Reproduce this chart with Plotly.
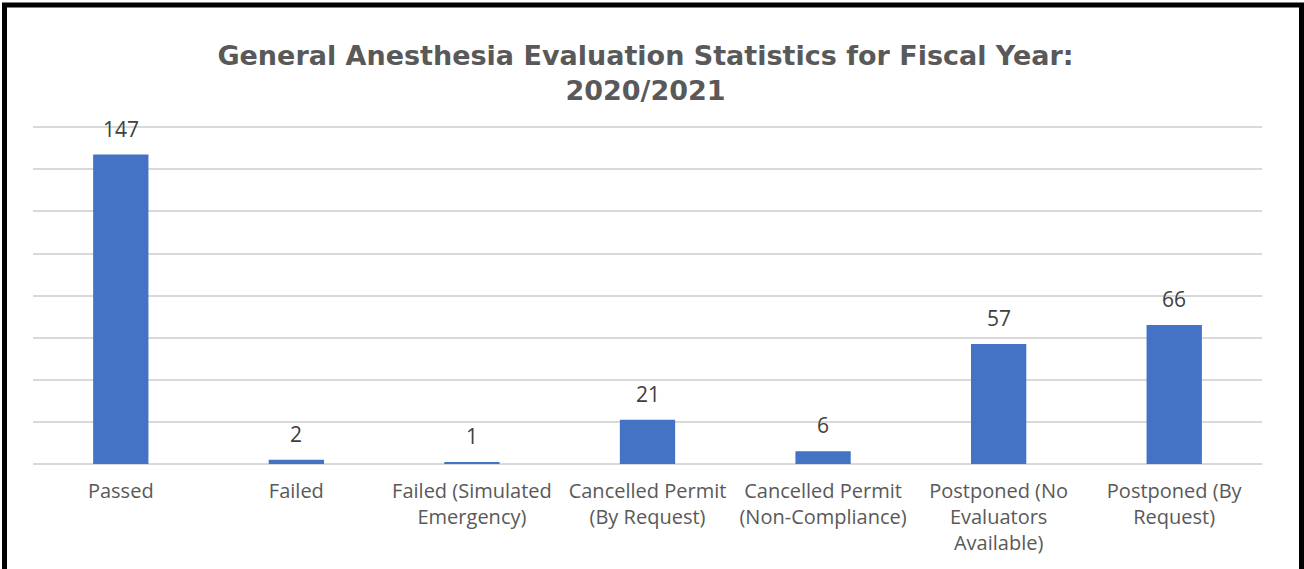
import plotly.graph_objects as go

# ─── Données ──────────────────────────────────────────────────────────
categories = [
    "Passed",
    "Failed",
    "Failed (Simulated<br>Emergency)",
    "Cancelled Permit<br>(By Request)",
    "Cancelled Permit<br>(Non-Compliance)",
    "Postponed (No<br>Evaluators<br>Available)",
    "Postponed (By<br>Request)",
]
counts = [147, 2, 1, 21, 6, 57, 66]

TITLE = "General Anesthesia Evaluation Statistics for Fiscal Year:<br>2020/2021"

# ─── Géométrie ────────────────────────────────────────────────────────
W, H = 1304, 569
ML, MR, MT, MB = 33, 42, 126, 105
PW, PH = W - ML - MR, H - MT - MB

LABEL_FONT = "'Open Sans', Lato, sans-serif"


def px_to_paper(x, y):
    """Pixel (page) -> coordonnées paper du plot."""
    return (x - ML) / PW, (H - MB - y) / PH


fig = go.Figure()

fig.add_trace(
    go.Bar(
        x=categories,
        y=counts,
        marker=dict(color="#4472C4", line=dict(width=0)),
        width=0.315,
        hoverinfo="x+y",
    )
)

# étiquettes de valeurs au-dessus des barres
for cat, val in zip(categories, counts):
    fig.add_annotation(
        x=cat,
        y=val,
        text=str(val),
        showarrow=False,
        yanchor="bottom",
        yshift=10,
        font=dict(family=LABEL_FONT, size=21, color="#404040"),
    )

# cadre noir autour du graphique
x0, y0 = px_to_paper(4.5, 5)
x1, y1 = px_to_paper(1301.5, 580)
fig.add_shape(
    type="rect",
    xref="paper",
    yref="paper",
    x0=x0,
    y0=y1,
    x1=x1,
    y1=y0,
    line=dict(color="black", width=5),
    fillcolor="rgba(0,0,0,0)",
    layer="above",
)

fig.update_layout(
    width=W,
    height=H,
    margin=dict(l=ML, r=MR, t=MT, b=MB, pad=0),
    paper_bgcolor="white",
    plot_bgcolor="white",
    showlegend=False,
    title=dict(
        text=TITLE,
        x=0.495,
        xanchor="center",
        y=1 - 65 / H,
        yanchor="middle",
        font=dict(family="'DejaVu Sans', Arial, sans-serif", size=27, color="#595959", weight="bold"),
    ),
    xaxis=dict(
        showgrid=False,
        showline=False,
        ticks="",
        ticklabelstandoff=13,
        tickfont=dict(family=LABEL_FONT, size=20, color="#595959"),
    ),
    yaxis=dict(
        range=[0, 160.6],
        dtick=20,
        showgrid=True,
        gridcolor="#D9D9D9",
        gridwidth=2,
        zeroline=True,
        zerolinecolor="#D9D9D9",
        zerolinewidth=2,
        showticklabels=False,
        showline=False,
    ),
)

fig.write_html(
    "out.html",
    config={"displayModeBar": False},
    post_script="document.body.style.margin='0';",
)
